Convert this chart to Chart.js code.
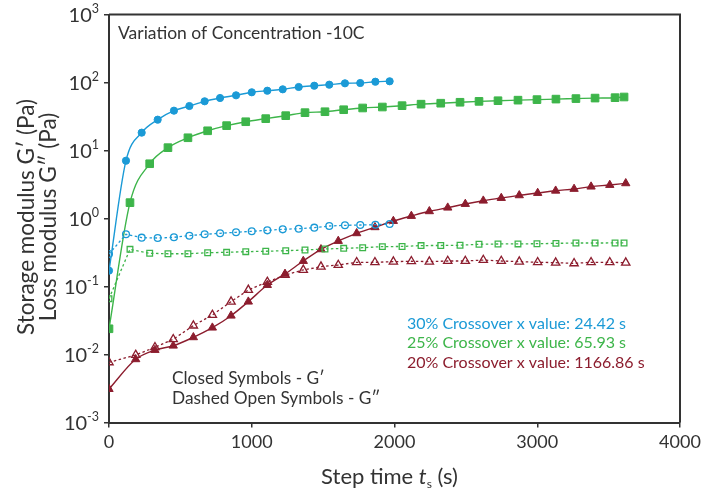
<!DOCTYPE html>
<html>
<head>
<meta charset="utf-8">
<script src="https://cdn.jsdelivr.net/npm/chart.js@4.4.1/dist/chart.umd.min.js"></script>
<style>
  html, body { margin: 0; padding: 0; background: #fff; }
</style>
</head>
<body>
<canvas id="chart" width="719" height="496"></canvas>
<script>
// 30% concentration
const blueX = [0, 119, 229, 341, 455, 563, 670, 778, 890, 1000, 1109, 1217, 1329, 1438, 1543, 1653, 1760, 1866, 1966];
const blueStorage = [0.171, 7.08, 18.3, 28.4, 38.5, 45.1, 52.9, 59.2, 64.8, 71.8, 75.7, 79.4, 85.9, 89.7, 92.9, 97.3, 98.3, 102.7, 104.2];
const blueLoss = [0.30, 0.586, 0.523, 0.516, 0.529, 0.559, 0.586, 0.606, 0.627, 0.648, 0.670, 0.693, 0.708, 0.733, 0.776, 0.794, 0.802, 0.811, 0.830];

// 25% concentration
const greenX = [0, 147, 285, 413, 553, 691, 824, 958, 1098, 1238, 1373, 1513, 1644, 1777, 1915, 2053, 2186, 2324, 2459, 2592, 2725, 2865, 2998, 3131, 3271, 3405, 3545, 3608];
const greenStorage = [0.0239, 1.71, 6.39, 11.0, 15.4, 19.5, 23.2, 26.5, 29.4, 32.5, 36.0, 37.2, 39.8, 42.2, 43.6, 45.6, 48.0, 49.6, 51.2, 52.8, 54.0, 55.0, 56.0, 57.0, 58.0, 59.0, 59.8, 61.2];
const greenLoss = [0.0662, 0.352, 0.308, 0.303, 0.303, 0.314, 0.318, 0.325, 0.330, 0.336, 0.344, 0.356, 0.364, 0.372, 0.386, 0.388, 0.400, 0.401, 0.404, 0.418, 0.422, 0.423, 0.426, 0.431, 0.436, 0.436, 0.437, 0.437];

// 20% concentration
const redX = [0, 187, 322, 450, 591, 724, 855, 976, 1109, 1233, 1361, 1485, 1606, 1735, 1863, 1992, 2118, 2244, 2373, 2496, 2622, 2748, 2874, 3003, 3129, 3258, 3377, 3508, 3620];
const redStorage = [0.0031, 0.0085, 0.01164, 0.01346, 0.0179, 0.0248, 0.0372, 0.0598, 0.105, 0.153, 0.237, 0.352, 0.467, 0.606, 0.743, 0.918, 1.089, 1.276, 1.442, 1.634, 1.827, 2.00, 2.19, 2.37, 2.56, 2.72, 2.94, 3.11, 3.29];
const redLoss = [0.00767, 0.00984, 0.01276, 0.01675, 0.0266, 0.0381, 0.0598, 0.0889, 0.1165, 0.1476, 0.175, 0.1955, 0.207, 0.227, 0.227, 0.232, 0.235, 0.232, 0.237, 0.237, 0.245, 0.237, 0.232, 0.227, 0.224, 0.219, 0.227, 0.227, 0.224];

const xTicks = [0, 1000, 2000, 3000, 4000];
const yExponents = [-3, -2, -1, 0, 1, 2, 3];

const crossoverNotes = [
  ['30% Crossover x value: 24.42 s', '#1b9ad6'],
  ['25% Crossover x value: 65.93 s', '#3db54a'],
  ['20% Crossover x value: 1166.86 s', '#8c1d2e']
];

const BLUE = '#1b9ad6', GREEN = '#3db54a', RED = '#8c1d2e';
const FONT = 'Lato, "Open Sans", sans-serif';
const INK = '#333';

function pts(xs, ys) {
  return xs.map((x, i) => ({ x: x, y: ys[i] }));
}

function storage(label, xs, ys, color, style, r) {
  return {
    label: label,
    data: pts(xs, ys),
    borderColor: color,
    backgroundColor: color,
    borderWidth: 1.4,
    pointStyle: style,
    pointRadius: r,
    pointBorderWidth: 1,
    pointBorderColor: color,
    pointBackgroundColor: color,
    cubicInterpolationMode: 'monotone'
  };
}

function loss(label, xs, ys, color, style, r) {
  return {
    label: label,
    data: pts(xs, ys),
    borderColor: color,
    backgroundColor: 'rgba(255,255,255,0)',
    borderWidth: 1.3,
    borderDash: [2.5, 2.5],
    pointStyle: style,
    pointRadius: r,
    pointBorderWidth: 1.3,
    pointBorderColor: color,
    pointBackgroundColor: 'rgba(255,255,255,0)',
    tension: 0
  };
}

const deco = {
  id: 'deco',
  afterDraw(chart) {
    const { ctx, chartArea: a, scales } = chart;
    const y = scales.y;
    ctx.save();

    // top and right frame
    ctx.strokeStyle = INK;
    ctx.lineWidth = 2;
    ctx.beginPath();
    ctx.moveTo(a.left, a.top);
    ctx.lineTo(a.right, a.top);
    ctx.lineTo(a.right, a.bottom);
    ctx.stroke();

    // y tick labels as 10 with superscript
    ctx.fillStyle = INK;
    yExponents.forEach(e => {
      const py = y.getPixelForValue(Math.pow(10, e));
      ctx.font = '20px ' + FONT;
      const wb = ctx.measureText('10').width;
      ctx.font = '12.5px ' + FONT;
      const we = ctx.measureText(String(e)).width;
      const right = a.left - 10;
      ctx.textBaseline = 'middle';
      ctx.textAlign = 'left';
      ctx.font = '20px ' + FONT;
      ctx.fillText('10', right - we - wb, py + 1);
      ctx.font = '12.5px ' + FONT;
      ctx.fillText(String(e), right - we, py - 6);
    });

    // x axis title
    const parts = [
      ['Step time ', '22px ' + FONT, 0],
      ['t', 'italic 22px ' + FONT, 0],
      ['s', '12px ' + FONT, 7],
      [' (s)', '22px ' + FONT, 0]
    ];
    let total = 0;
    parts.forEach(p => { ctx.font = p[1]; total += ctx.measureText(p[0]).width; });
    let cx = (a.left + a.right) / 2 - 5 - total / 2;
    ctx.textBaseline = 'middle';
    ctx.textAlign = 'left';
    parts.forEach(p => {
      ctx.font = p[1];
      ctx.fillText(p[0], cx, 477 + p[2]);
      cx += ctx.measureText(p[0]).width;
    });

    // y axis title, two lines
    ctx.font = '22.5px ' + FONT;
    ctx.textAlign = 'center';
    [['Storage modulus G\u2032 (Pa)', 27], ['Loss modulus G\u2033 (Pa)', 49]].forEach(t => {
      ctx.save();
      ctx.translate(t[1], 217);
      ctx.rotate(-Math.PI / 2);
      ctx.fillText(t[0], 0, 0);
      ctx.restore();
    });

    // notes inside the plot
    ctx.textAlign = 'left';
    ctx.font = '17.5px ' + FONT;
    ctx.fillText('Variation of Concentration -10C', 118, 33);
    ctx.font = '16px ' + FONT;
    crossoverNotes.forEach((n, i) => {
      ctx.fillStyle = n[1];
      ctx.fillText(n[0], 407, 324 + i * 19.3);
    });
    ctx.fillStyle = INK;
    ctx.font = '17.3px ' + FONT;
    ctx.fillText('Closed Symbols - G\u2032', 172, 378);
    ctx.fillText('Dashed Open Symbols - G\u2033', 172, 398);

    ctx.restore();
  }
};

new Chart(document.getElementById('chart'), {
  type: 'line',
  data: {
    datasets: [
      loss('30% G\u2033', blueX, blueLoss, BLUE, 'circle', 3.4),
      loss('25% G\u2033', greenX, greenLoss, GREEN, 'rect', 4),
      loss('20% G\u2033', redX, redLoss, RED, 'triangle', 4.8),
      storage('30% G\u2032', blueX, blueStorage, BLUE, 'circle', 3.6),
      storage('25% G\u2032', greenX, greenStorage, GREEN, 'rect', 5.4),
      storage('20% G\u2032', redX, redStorage, RED, 'triangle', 4.8)
    ]
  },
  options: {
    responsive: false,
    animation: false,
    layout: { padding: { top: 14.5, right: 39, left: 0, bottom: 0 } },
    plugins: {
      legend: { display: false },
      tooltip: { enabled: false }
    },
    scales: {
      x: {
        type: 'linear',
        min: 0,
        max: 4000,
        afterBuildTicks: s => { s.ticks = xTicks.map(v => ({ value: v })); },
        afterFit: s => { s.height = 73.5; },
        ticks: { color: INK, font: { family: FONT, size: 18 }, padding: 4, maxRotation: 0, callback: v => String(v) },
        grid: { display: true, drawOnChartArea: false, drawTicks: true, tickLength: 5, color: INK, lineWidth: 1.5 },
        border: { display: true, color: INK, width: 2 }
      },
      y: {
        type: 'logarithmic',
        min: 1e-3,
        max: 1e3,
        afterBuildTicks: s => { s.ticks = yExponents.map(e => ({ value: Math.pow(10, e) })); },
        afterFit: s => { s.width = 109; },
        ticks: { display: false },
        grid: { display: true, drawOnChartArea: false, drawTicks: true, tickLength: 5, color: INK, lineWidth: 1.5 },
        border: { display: true, color: INK, width: 2 }
      }
    }
  },
  plugins: [deco]
});
</script>
</body>
</html>
